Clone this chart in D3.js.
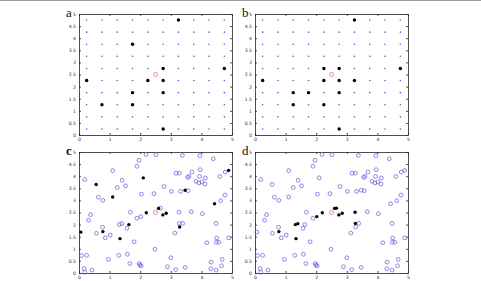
<!DOCTYPE html>
<html>
<head>
<meta charset="utf-8">
<script src="https://cdn.jsdelivr.net/npm/d3@7"></script>
<style>
  html, body { margin: 0; padding: 0; background: #fff; }
  svg { display: block; }
  .tick text { font-family: "DejaVu Sans", sans-serif; font-size: 4.6px; fill: #333; }
  .tick line, .domain { stroke: #222; stroke-width: 0.8; }
</style>
</head>
<body>
<div id="chart"></div>
<script>
// ticks
const xTicks = [0, 1, 2, 3, 4, 5];
const yTicks = [0, 0.5, 1, 1.5, 2, 2.5, 3, 3.5, 4, 4.5, 5];

// regular grid centres (panels a, b)
const gridCoords = [0.25, 0.75, 1.25, 1.75, 2.25, 2.75, 3.25, 3.75, 4.25, 4.75];

// selected grid points
const selectedA = [
  [3.25, 4.75], [1.75, 3.75], [2.75, 2.75], [4.75, 2.75], [0.25, 2.25],
  [2.25, 2.25], [2.75, 2.25], [1.75, 1.75], [2.75, 1.75], [0.75, 1.25],
  [1.75, 1.25], [2.75, 0.25]
];
const selectedB = [
  [3.25, 4.75], [2.25, 2.75], [2.75, 2.75], [4.75, 2.75], [0.25, 2.25],
  [2.25, 2.25], [2.75, 2.25], [3.25, 2.25], [1.25, 1.75], [1.75, 1.75],
  [2.75, 1.75], [1.25, 1.25], [2.25, 1.25], [2.75, 0.25]
];

// random sample (panels c, d)
const samplePoints = [
  [2.19,4.90],[2.51,4.89],[3.38,4.86],[3.95,4.85],[4.39,4.72],[1.96,4.66],[1.89,4.41],
  [3.96,4.27],[1.10,4.23],[3.69,4.17],[4.78,4.17],[3.17,4.12],[3.28,4.13],[3.94,3.99],
  [3.55,3.95],[3.59,3.99],[4.60,3.99],[4.13,3.93],[0.19,3.86],[3.83,3.79],[4.02,3.76],
  [4.12,3.68],[3.92,3.72],[1.41,3.83],[1.52,3.60],[1.25,3.53],[2.78,3.57],[3.02,3.37],
  [3.32,3.37],[3.57,3.40],[2.45,3.28],[2.04,3.26],[0.63,3.13],[0.78,3.00],[4.77,3.22],
  [4.63,2.99],[2.66,2.68],[0.38,2.41],[1.68,2.51],[3.27,2.51],[3.67,2.53],[0.31,2.18],
  [2.02,2.33],[1.89,2.26],[4.03,2.45],[3.28,2.05],[3.39,2.05],[1.40,2.04],[1.32,2.00],
  [0.77,1.89],[1.57,1.85],[4.48,2.05],[0.57,1.64],[1.02,1.57],[0.86,1.45],[3.13,1.65],
  [4.50,1.45],[4.49,1.27],[4.57,1.27],[4.18,1.25],[4.89,1.45],[1.80,1.29],[2.48,0.98],
  [0.08,0.72],[0.25,0.73],[1.30,0.73],[1.58,0.77],[0.96,0.56],[3.00,0.63],[4.68,0.56],
  [4.32,0.45],[1.66,0.39],[1.97,0.39],[1.99,0.33],[2.03,0.30],[2.89,0.26],[3.47,0.23],
  [4.66,0.30],[0.17,0.18],[0.19,0.03],[0.42,0.12],[3.16,0.14],[4.31,0.18],[4.48,0.12],
  // these are the filled ones in c
  [0.06,1.69],[0.56,3.66],[0.78,1.71],[1.10,3.14],[1.34,1.42],[1.63,2.00],[2.10,3.93],
  [2.20,2.49],[2.60,2.67],[2.74,2.40],[2.85,2.47],[3.29,1.90],[3.47,3.42],[4.43,2.86],
  [4.89,4.24]
];
// indexes into samplePoints
const selectedC = [84, 85, 86, 87, 88, 89, 90, 91, 92, 93, 94, 95, 96, 97, 98];
const selectedD = [86, 88, 48, 47, 42, 91, 92, 36, 93, 94, 39, 45];

const centre = [2.5, 2.5];
const panelLabels = ["a", "b", "c", "d"];

const W = 481, H = 281;
const plotW = 153, plotH = 121;
const origins = [[79, 14], [255, 14], [79, 152], [255, 152]];

const blue = "#5c58dc";
const red = "#e05a5a";

const svg = d3.select("#chart").append("svg")
  .attr("width", W).attr("height", H);

// thin frame line along the top of the figure
svg.append("line")
  .attr("x1", 0).attr("x2", W).attr("y1", 0.5).attr("y2", 0.5)
  .attr("stroke", "#9a9a9a").attr("stroke-width", 1);

const x = d3.scaleLinear().domain([0, 5]).range([0, plotW]);
const y = d3.scaleLinear().domain([0, 5]).range([plotH, 0]);

function drawPanel(i) {
  const [ox, oy] = origins[i];
  const g = svg.append("g").attr("transform", `translate(${ox},${oy})`);

  // matlab-like box: ticks inward on all four sides
  g.append("g").attr("transform", `translate(0,${plotH})`)
    .call(d3.axisBottom(x).tickValues(xTicks).tickSize(-2).tickSizeOuter(0).tickPadding(3).tickFormat(d3.format("~g")));
  g.append("g")
    .call(d3.axisLeft(y).tickValues(yTicks).tickSize(-2).tickSizeOuter(0).tickPadding(3).tickFormat(d3.format("~g")));
  g.append("g")
    .call(d3.axisTop(x).tickValues(xTicks).tickSize(-2).tickSizeOuter(0).tickFormat(""));
  g.append("g").attr("transform", `translate(${plotW},0)`)
    .call(d3.axisRight(y).tickValues(yTicks).tickSize(-2).tickSizeOuter(0).tickFormat(""));

  svg.append("text")
    .attr("x", ox - 13).attr("y", oy + 3)
    .attr("font-family", "Liberation Serif, DejaVu Serif, serif")
    .attr("font-size", 13)
    .attr("font-weight", i === 2 ? "bold" : "normal")
    .attr("fill", "#111")
    .text(panelLabels[i]);

  return g;
}

function drawCentre(g) {
  g.append("circle")
    .attr("cx", x(centre[0])).attr("cy", y(centre[1]))
    .attr("r", 2).attr("fill", "none").attr("stroke", red).attr("stroke-width", 0.7);
}

// panels a, b: grid
[selectedA, selectedB].forEach((sel, i) => {
  const g = drawPanel(i);
  const isSel = p => sel.some(s => s[0] === p[0] && s[1] === p[1]);
  const grid = d3.cross(gridCoords, gridCoords).filter(p => !isSel(p));
  g.selectAll(".gd").data(grid).join("circle")
    .attr("cx", d => x(d[0])).attr("cy", d => y(d[1]))
    .attr("r", 0.8).attr("fill", blue);
  g.selectAll(".sd").data(sel).join("circle")
    .attr("cx", d => x(d[0])).attr("cy", d => y(d[1]))
    .attr("r", 1.7).attr("fill", "#000");
  drawCentre(g);
});

// panels c, d: random sample
[selectedC, selectedD].forEach((selIdx, k) => {
  const g = drawPanel(k + 2);
  const others = samplePoints.filter((p, j) => !selIdx.includes(j));
  const sel = selIdx.map(j => samplePoints[j]);
  g.selectAll(".oc").data(others).join("circle")
    .attr("cx", d => x(d[0])).attr("cy", d => y(d[1]))
    .attr("r", 1.9).attr("fill", "none").attr("stroke", blue).attr("stroke-width", 0.7);
  g.selectAll(".sd").data(sel).join("circle")
    .attr("cx", d => x(d[0])).attr("cy", d => y(d[1]))
    .attr("r", 1.7).attr("fill", "#000");
  drawCentre(g);
});
</script>
</body>
</html>
